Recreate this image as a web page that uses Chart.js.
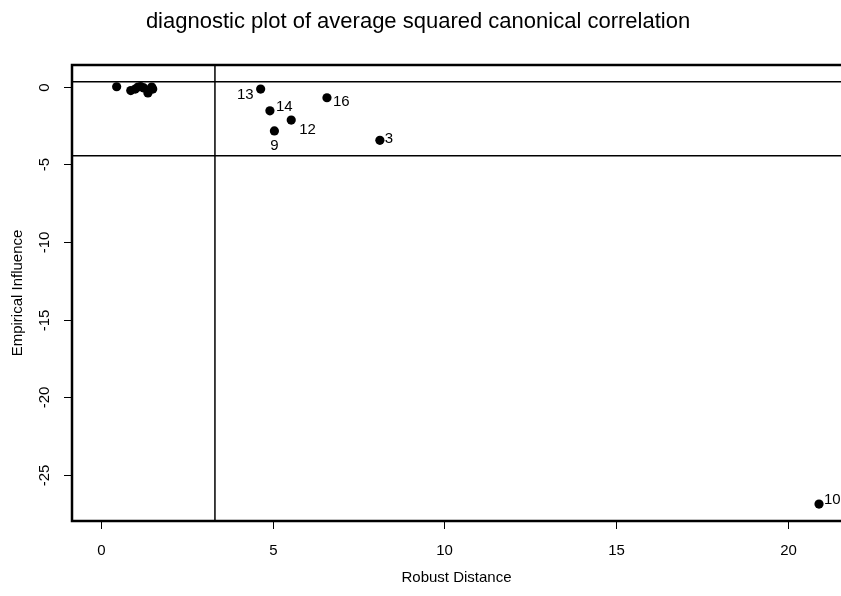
<!DOCTYPE html>
<html>
<head>
<meta charset="utf-8">
<script src="https://cdn.jsdelivr.net/npm/chart.js@4"></script>
<style>
html,body{margin:0;padding:0;background:#fff;overflow:hidden;}
canvas{display:block;}
</style>
</head>
<body>
<canvas id="c" width="841" height="596"></canvas>
<script>
// ---- data ----
const robustDistance = [0.46, 0.87, 1.0, 1.08, 1.16, 1.25, 1.37, 1.48, 1.51, 4.65, 4.92, 6.58, 5.54, 5.05, 8.12, 20.9];
const empiricalInfluence = [0.0, -0.25, -0.15, -0.02, 0.01, -0.08, -0.4, -0.02, -0.15, -0.15, -1.55, -0.71, -2.15, -2.85, -3.45, -26.89];
const pointLabels = ["", "", "", "", "", "", "", "", "", "13", "14", "16", "12", "9", "3", "10"];
const xTicks = [0, 5, 10, 15, 20];
const yTicks = [0, -5, -10, -15, -20, -25];
const hCutoffs = [0.32, -4.45];
const vCutoffs = [3.32];
const titleText = "diagnostic plot of average squared canonical correlation";
const xTitle = "Robust Distance";
const yTitle = "Empirical Influence";

// label placement (offset of text from its point, and alignment)
const labelPlacement = {
  "13": {dx: -5, dy: 6, align: "right"},
  "14": {dx: 4, dy: -4, align: "left"},
  "16": {dx: 4, dy: 4, align: "left"},
  "12": {dx: 6, dy: 10, align: "left"},
  "9":  {dx: 0, dy: 15, align: "center"},
  "3":  {dx: 3, dy: -1, align: "left"},
  "10": {dx: 3, dy: -4, align: "left"}
};

const FONT = "'Liberation Sans', Arial, sans-serif";

const decor = {
  id: "decor",
  afterDatasetsDraw(chart) {
    const ctx = chart.ctx;
    const xs = chart.scales.x, ys = chart.scales.y;
    const a = chart.chartArea;
    const W = chart.width;
    ctx.save();
    // reference lines
    ctx.strokeStyle = "#000";
    ctx.lineWidth = 1.5;
    hCutoffs.forEach(v => {
      const y = ys.getPixelForValue(v);
      ctx.beginPath(); ctx.moveTo(a.left, y); ctx.lineTo(W, y); ctx.stroke();
    });
    vCutoffs.forEach(v => {
      const x = xs.getPixelForValue(v);
      ctx.beginPath(); ctx.moveTo(x, a.top); ctx.lineTo(x, a.bottom); ctx.stroke();
    });
    // box (right side is outside the window)
    ctx.lineWidth = 2.5;
    ctx.beginPath();
    ctx.moveTo(W + 2, a.top);
    ctx.lineTo(a.left, a.top);
    ctx.lineTo(a.left, a.bottom);
    ctx.lineTo(W + 2, a.bottom);
    ctx.stroke();
    // x ticks
    ctx.lineWidth = 1;
    ctx.fillStyle = "#000";
    ctx.font = "15px " + FONT;
    ctx.textAlign = "center";
    ctx.textBaseline = "middle";
    xTicks.forEach(v => {
      const x = Math.round(xs.getPixelForValue(v)) + 0.5;
      ctx.beginPath(); ctx.moveTo(x, a.bottom); ctx.lineTo(x, a.bottom + 8); ctx.stroke();
      ctx.fillText(String(v), x, 551);
    });
    // y ticks (rotated labels)
    yTicks.forEach(v => {
      const y = Math.round(ys.getPixelForValue(v)) + 0.5;
      ctx.beginPath(); ctx.moveTo(a.left - 8, y); ctx.lineTo(a.left, y); ctx.stroke();
      ctx.save();
      ctx.translate(45, y);
      ctx.rotate(-Math.PI / 2);
      ctx.fillText(String(v), 0, 0);
      ctx.restore();
    });
    // axis titles
    ctx.fillText(xTitle, (a.left + a.right) / 2, 578);
    ctx.save();
    ctx.translate(18, (a.top + a.bottom) / 2);
    ctx.rotate(-Math.PI / 2);
    ctx.fillText(yTitle, 0, 0);
    ctx.restore();
    // main title
    ctx.font = "22px " + FONT;
    ctx.fillText(titleText, 418, 22);
    // point labels
    ctx.font = "15px " + FONT;
    const meta = chart.getDatasetMeta(0);
    meta.data.forEach((pt, i) => {
      const lab = pointLabels[i];
      if (!lab) return;
      const p = labelPlacement[lab] || {dx: 4, dy: 0, align: "left"};
      ctx.textAlign = p.align;
      ctx.fillText(lab, pt.x + p.dx + (p.align === "left" ? 2 : p.align === "right" ? -2 : 0), pt.y + p.dy);
    });
    ctx.restore();
  }
};

new Chart(document.getElementById("c"), {
  type: "scatter",
  data: {
    datasets: [{
      data: robustDistance.map((x, i) => ({x: x, y: empiricalInfluence[i]})),
      backgroundColor: "#000",
      borderColor: "#000",
      pointRadius: 4.6,
      pointHoverRadius: 4.6,
      borderWidth: 0
    }]
  },
  options: {
    responsive: false,
    animation: false,
    events: [],
    layout: {autoPadding: false, padding: {top: 65, left: 0, right: 0, bottom: 0}},
    plugins: {legend: {display: false}, tooltip: {enabled: false}, title: {display: false}},
    scales: {
      x: {
        type: "linear", min: -0.84, max: 21.54,
        ticks: {display: false}, grid: {display: false}, border: {display: false},
        afterFit: s => { s.height = 75; }
      },
      y: {
        type: "linear", min: -27.98, max: 1.40,
        ticks: {display: false}, grid: {display: false}, border: {display: false},
        afterFit: s => { s.width = 72; }
      }
    }
  },
  plugins: [decor]
});
</script>
</body>
</html>
